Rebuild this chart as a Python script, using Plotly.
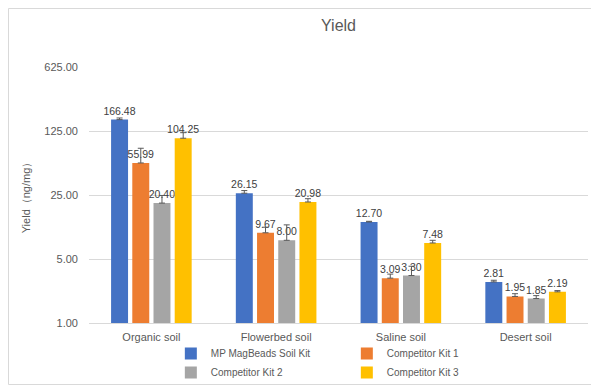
import plotly.graph_objects as go

categories = ["Organic soil", "Flowerbed soil", "Saline soil", "Desert soil"]
series_names = ["MP MagBeads Soil Kit", "Competitor Kit 1", "Competitor Kit 2", "Competitor Kit 3"]
mp_kit = [166.48, 26.15, 12.70, 2.81]
kit1 = [55.99, 9.67, 3.09, 1.95]
kit2 = [20.40, 8.00, 3.30, 1.85]
kit3 = [104.25, 20.98, 7.48, 2.19]
mp_err = [7.0, 1.8, 0.2, 0.12]
kit1_err = [25.0, 1.45, 0.33, 0.14]
kit2_err = [4.3, 3.8, 0.87, 0.14]
kit3_err = [15.6, 1.8, 0.52, 0.07]
tick_vals = [1, 5, 25, 125, 625]
tick_text = ["1.00", "5.00", "25.00", "125.00", "625.00"]

colors = ["#4472C4", "#ED7D31", "#A5A5A5", "#FFC000"]
values = [mp_kit, kit1, kit2, kit3]
errors = [mp_err, kit1_err, kit2_err, kit3_err]

fig = go.Figure()
for name, vals, errs, col in zip(series_names, values, errors, colors):
    fig.add_trace(go.Bar(
        x=categories, y=vals, name=name,
        marker=dict(color=col, line=dict(width=0)),
        error_y=dict(type="data", array=errs, arrayminus=[0] * len(errs), symmetric=False,
                     color="#595959", thickness=1, width=3),
        text=[f"{v:.2f}" for v in vals], textposition="outside",
        constraintext="none",
        textfont=dict(size=10.5, color="#404040"), cliponaxis=False,
    ))

# the page body adds an 8px offset, so the figure is sized to fit inside it
W, H = 591, 378
ml, mr, mt, mb = 81, 11, 59, 63
pw = W - ml - mr
ph = H - mt - mb
fig.update_layout(
    width=W, height=H,
    margin=dict(l=ml, r=mr, t=mt, b=mb, autoexpand=False),
    paper_bgcolor="white", plot_bgcolor="white",
    font=dict(family="Liberation Sans, Arial, sans-serif", color="#595959", size=10),
    title=dict(text="Yield", x=0.5, xref="paper", y=1 - 17 / H, yanchor="middle",
               font=dict(size=16, color="#595959")),
    barmode="group", bargap=0.32, bargroupgap=0.2,
    showlegend=True,
    legend=dict(orientation="h", x=0.164, xref="paper", y=-16 / ph, yanchor="top",
                entrywidth=131, entrywidthmode="pixels", traceorder="normal",
                bgcolor="rgba(0,0,0,0)",
                font=dict(size=10, color="#595959"), itemwidth=30,
                tracegroupgap=0),
)
fig.update_xaxes(showgrid=False, showline=True, linecolor="#D9D9D9", linewidth=1,
                 ticks="", ticklabelstandoff=4, tickfont=dict(size=11, color="#595959"))
fig.update_yaxes(type="log", range=[0, 2.7959], tickvals=tick_vals, ticktext=tick_text,
                 showgrid=True, gridcolor="#D9D9D9", gridwidth=1, zeroline=False,
                 showline=False, ticks="", ticklen=0, ticklabelstandoff=10,
                 tickfont=dict(size=11, color="#595959"),
                 title=dict(text="Yield（ng/mg）", font=dict(size=11, color="#595959"), standoff=11))

fig.add_shape(type="rect", xref="paper", yref="paper",
              x0=(0.5 - ml) / pw, x1=(W - 1.5 - ml) / pw,
              y0=-(mb - 1.5) / ph, y1=1 + (mt - 0.5) / ph,
              line=dict(color="#D9D9D9", width=1), fillcolor="rgba(0,0,0,0)", layer="below")

fig.write_html("out.html")
